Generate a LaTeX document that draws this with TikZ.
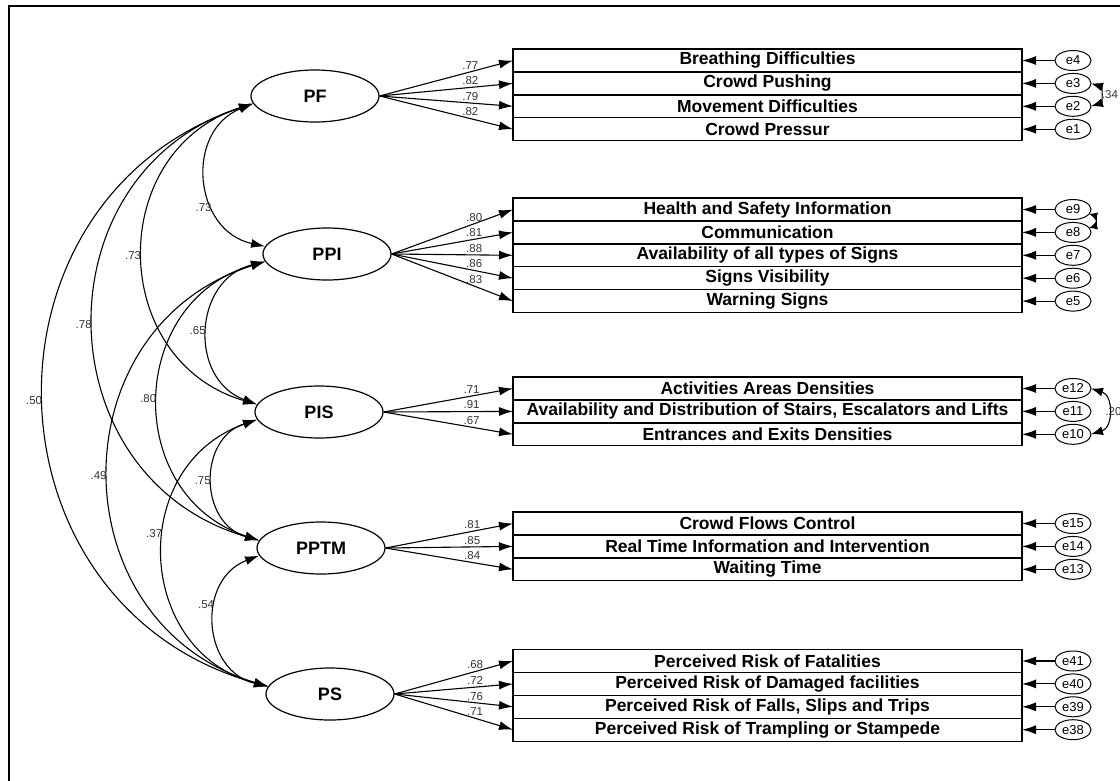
\documentclass[tikz,border=0pt]{standalone}
\usepackage{fontspec}
\setmainfont{Liberation Sans}
\usetikzlibrary{shapes,arrows.meta,calc,positioning}

\begin{document}
\begin{tikzpicture}[x=1pt,y=1pt,
    latent/.style={draw, ellipse, line width=1.2pt, minimum width=128pt, minimum height=52pt, inner sep=0pt, font=\fontsize{18}{20}\selectfont\bfseries},
    item/.style={draw, rectangle, line width=1.3pt, outer sep=0pt, minimum width=509pt, minimum height=22.9pt, inner sep=0pt, font=\fontsize{17.5}{19}\selectfont\bfseries},
    err/.style={draw, ellipse, line width=1pt, outer sep=0pt, minimum width=36pt, minimum height=20pt, inner sep=0pt, font=\fontsize{13}{14}\selectfont},
    load/.style={-{Latex[length=14pt,width=9pt]}, line width=1.1pt},
    cov/.style={{Latex[length=14pt,width=9pt]}-{Latex[length=14pt,width=9pt]}, line width=1.1pt, bend right=73, looseness=1.32},
    ecov/.style={{Latex[length=12pt,width=9pt]}-{Latex[length=12pt,width=9pt]}, line width=1.1pt, bend left=73, looseness=1.32},
    lbl/.style={font=\fontsize{11.5}{12}\selectfont, text=black!80, inner sep=2pt},
    ld/.style={lbl, pos=.68, above}
]
\useasboundingbox (0,0) rectangle (1120,-780);
\draw[line width=2pt] (9,-6) rectangle (1135,-795);

% latent variables
\node[latent] (PF) at (315,-96) {PF};
\node[latent] (PPI) at (327,-254) {PPI};
\node[latent] (PIS) at (319,-412) {PIS};
\node[latent] (PPTM) at (321,-548) {PPTM};
\node[latent] (PS) at (330,-694) {PS};

% PF items
\node[item] (pf1) at (767.5,-60.5) {Breathing Difficulties};
\node[item, below=0pt of pf1] (pf2) {Crowd Pushing};
\node[item, below=0pt of pf2] (pf3) {Movement Difficulties};
\node[item, below=0pt of pf3] (pf4) {Crowd Pressur};
% PPI items
\node[item] (ppi1) at (767.5,-209.5) {Health and Safety Information};
\node[item, below=0pt of ppi1] (ppi2) {Communication};
\node[item, below=0pt of ppi2] (ppi3) {Availability of all types of Signs};
\node[item, below=0pt of ppi3] (ppi4) {Signs Visibility};
\node[item, below=0pt of ppi4] (ppi5) {Warning Signs};
% PIS items
\node[item] (pis1) at (767.5,-388.5) {Activities Areas Densities};
\node[item, below=0pt of pis1] (pis2) {Availability and Distribution of Stairs, Escalators and Lifts};
\node[item, below=0pt of pis2] (pis3) {Entrances and Exits Densities};
% PPTM items
\node[item] (pptm1) at (767.5,-523.5) {Crowd Flows Control};
\node[item, below=0pt of pptm1] (pptm2) {Real Time Information and Intervention};
\node[item, below=0pt of pptm2] (pptm3) {Waiting Time};
% PS items
\node[item] (ps1) at (767.5,-661) {Perceived Risk of Fatalities};
\node[item, below=0pt of ps1] (ps2) {Perceived Risk of Damaged facilities};
\node[item, below=0pt of ps2] (ps3) {Perceived Risk of Falls, Slips and Trips};
\node[item, below=0pt of ps3] (ps4) {Perceived Risk of Trampling or Stampede};

% error terms
\node[err, right=33pt of pf1] (e4) {e4};
\node[err, right=33pt of pf2] (e3) {e3};
\node[err, right=33pt of pf3] (e2) {e2};
\node[err, right=33pt of pf4] (e1) {e1};
\node[err, right=33pt of ppi1] (e9) {e9};
\node[err, right=33pt of ppi2] (e8) {e8};
\node[err, right=33pt of ppi3] (e7) {e7};
\node[err, right=33pt of ppi4] (e6) {e6};
\node[err, right=33pt of ppi5] (e5) {e5};
\node[err, right=33pt of pis1] (e12) {e12};
\node[err, right=33pt of pis2] (e11) {e11};
\node[err, right=33pt of pis3] (e10) {e10};
\node[err, right=33pt of pptm1] (e15) {e15};
\node[err, right=33pt of pptm2] (e14) {e14};
\node[err, right=33pt of pptm3] (e13) {e13};
\node[err, right=33pt of ps1] (e41) {e41};
\node[err, right=33pt of ps2] (e40) {e40};
\node[err, right=33pt of ps3] (e39) {e39};
\node[err, right=33pt of ps4] (e38) {e38};

\foreach \e/\i in {e4/pf1,e3/pf2,e2/pf3,e1/pf4,e9/ppi1,e8/ppi2,e7/ppi3,e6/ppi4,e5/ppi5,e12/pis1,e11/pis2,e10/pis3,e15/pptm1,e14/pptm2,e13/pptm3,e41/ps1,e40/ps2,e39/ps3,e38/ps4}
    \draw[load] (\e) -- (\i);

% loadings
\draw[load] (PF.east) -- (pf1.west) node[ld] {.77};
\draw[load] (PF.east) -- (pf2.west) node[ld] {.82};
\draw[load] (PF.east) -- (pf3.west) node[ld] {.79};
\draw[load] (PF.east) -- (pf4.west) node[ld] {.82};
\draw[load] (PPI.east) -- (ppi1.west) node[ld] {.80};
\draw[load] (PPI.east) -- (ppi2.west) node[ld] {.81};
\draw[load] (PPI.east) -- (ppi3.west) node[ld] {.88};
\draw[load] (PPI.east) -- (ppi4.west) node[ld] {.86};
\draw[load] (PPI.east) -- (ppi5.west) node[ld] {.83};
\draw[load] (PIS.east) -- (pis1.west) node[ld] {.71};
\draw[load] (PIS.east) -- (pis2.west) node[ld] {.91};
\draw[load] (PIS.east) -- (pis3.west) node[ld] {.67};
\draw[load] (PPTM.east) -- (pptm1.west) node[ld] {.81};
\draw[load] (PPTM.east) -- (pptm2.west) node[ld] {.85};
\draw[load] (PPTM.east) -- (pptm3.west) node[ld] {.84};
\draw[load] (PS.east) -- (ps1.west) node[ld] {.68};
\draw[load] (PS.east) -- (ps2.west) node[ld] {.72};
\draw[load] (PS.east) -- (ps3.west) node[ld] {.76};
\draw[load] (PS.east) -- (ps4.west) node[ld] {.71};

% covariances between factors
\draw[cov] (PF.187) to node[lbl, pos=.66, left] {.73} (PPI.173);
\draw[cov] (PF.187) to node[lbl, left] {.73} (PIS.173);
\draw[cov] (PF.187) to node[lbl, left] {.78} (PPTM.173);
\draw[cov] (PF.187) to node[lbl, left] {.50} (PS.173);
\draw[cov] (PPI.187) to node[lbl, left] {.65} (PIS.173);
\draw[cov] (PPI.187) to node[lbl, left] {.80} (PPTM.173);
\draw[cov] (PPI.187) to node[lbl, left] {.49} (PS.173);
\draw[cov] (PIS.187) to node[lbl, left] {.75} (PPTM.173);
\draw[cov] (PIS.187) to node[lbl, pos=.43, left] {.37} (PS.173);
\draw[cov] (PPTM.187) to node[lbl, pos=.38, left] {.54} (PS.173);

% error covariances
\draw[ecov] (e3.east) to node[lbl, right] {.34} (e2.east);
\draw[ecov, {Latex[length=8pt,width=8pt]}-{Latex[length=8pt,width=8pt]}] (e9.-15) to (e8.15);
\draw[ecov] (e12.east) to node[lbl, right, inner sep=0pt, xshift=-3pt] {.20} (e10.east);
\end{tikzpicture}
\end{document}
